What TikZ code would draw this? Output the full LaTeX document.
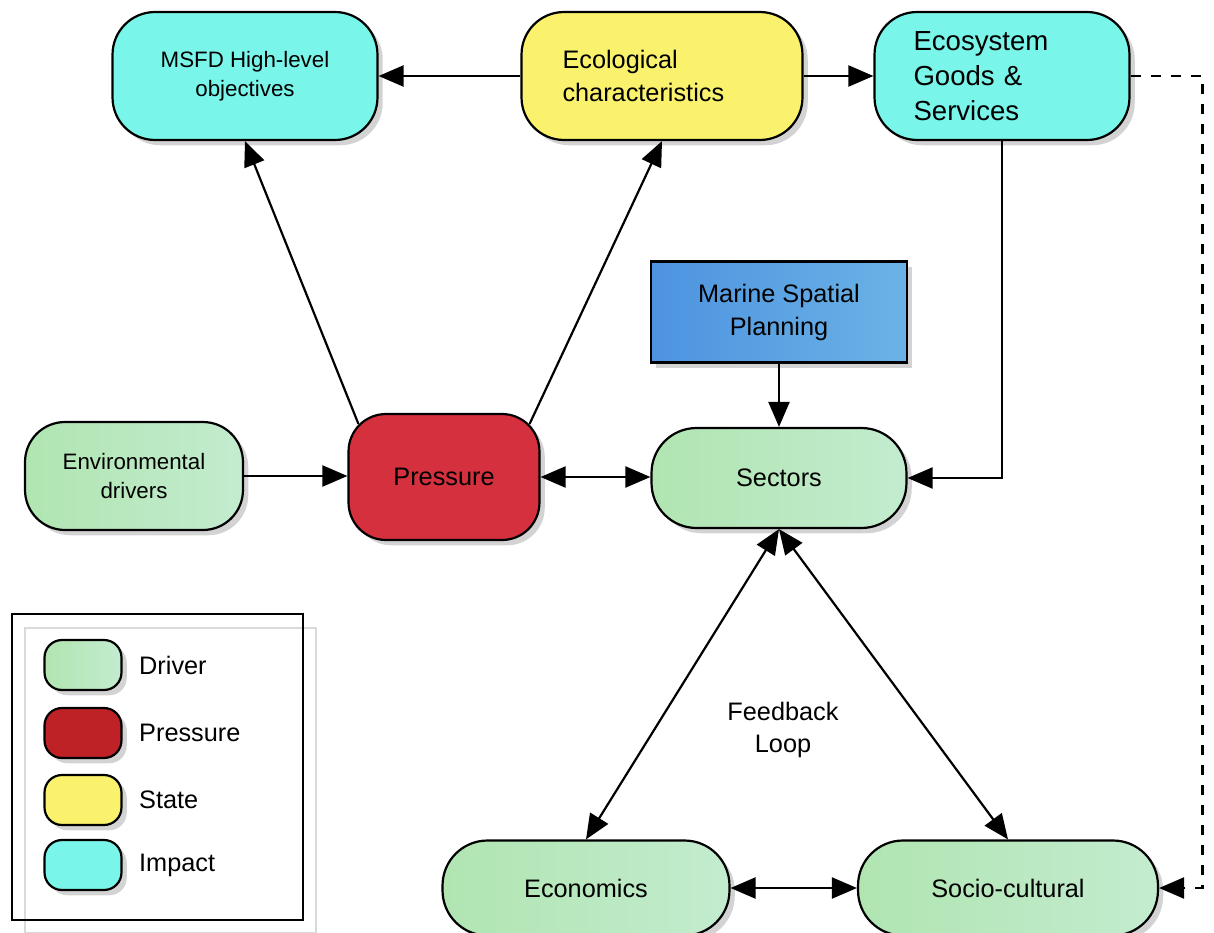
\documentclass[tikz,border=0pt]{standalone}
\usepackage{fontspec}
\setmainfont{Liberation Sans}
\usepackage{tikz}
\usetikzlibrary{arrows.meta, calc, shadows}

\definecolor{drvL}{HTML}{B0E5B1}
\definecolor{drvR}{HTML}{C3ECCF}
\definecolor{presred}{HTML}{D5303D}
\definecolor{legred}{HTML}{BE2227}
\definecolor{stateyel}{HTML}{FAF26C}
\definecolor{impcyan}{HTML}{7AF5EA}
\definecolor{mspL}{HTML}{4D93E0}
\definecolor{mspR}{HTML}{6BB3E6}

\begin{document}
\begin{tikzpicture}[x=0.02cm, y=-0.02cm,
	box/.style={draw, line width=1.25pt, rounded corners=0.85cm, align=center, inner sep=0pt,
		drop shadow={shadow xshift=3pt, shadow yshift=-3pt, opacity=0.35},
		font=\fontsize{14.4}{18.8}\selectfont},
	driver/.style={box, left color=drvL, right color=drvR},
	pressure/.style={box, fill=presred},
	legpres/.style={box, fill=legred},
	state/.style={box, fill=stateyel},
	impact/.style={box, fill=impcyan},
	legkey/.style={minimum width=1.54cm, minimum height=1cm, rounded corners=0.35cm},
	arr/.style={line width=1.25pt, -{Triangle[length=0.5cm, width=0.42cm]}},
	dbl/.style={line width=1.25pt, {Triangle[length=0.5cm, width=0.42cm]}-{Triangle[length=0.5cm, width=0.42cm]}}]
	\useasboundingbox (0,0) rectangle (1214,933);
	
	% top row
	\node[impact, minimum width=5.3cm, minimum height=2.56cm,
	font=\fontsize{12.7}{16.5}\selectfont] (msfd) at (245,76) {MSFD High-level\\objectives};
	\node[state, minimum width=5.62cm, minimum height=2.56cm, text width=3.98cm,
	align=left, inner xsep=0.82cm] (eco) at (662,76) {Ecological\\characteristics};
	\node[impact, minimum width=5.1cm, minimum height=2.56cm, text width=3.54cm,
	align=left, inner xsep=0.78cm, font=\fontsize{15.7}{20}\selectfont] (ess) at (1002,76) {Ecosystem\\Goods \&\\Services};
	
	% middle row
	\node[box, sharp corners, left color=mspL, right color=mspR,
	minimum width=5.12cm, minimum height=2.02cm] (msp) at (779,312) {Marine Spatial\\Planning};
	\node[driver, minimum width=4.36cm, minimum height=2.16cm, rounded corners=0.8cm,
	font=\fontsize{12.7}{17}\selectfont] (env) at (134,476) {Environmental\\drivers};
	\node[pressure, minimum width=3.82cm, minimum height=2.52cm, rounded corners=0.75cm] (pres) at (444,477) {Pressure};
	\node[driver, minimum width=5.1cm, minimum height=2cm, rounded corners=0.9cm] (sect) at (779,478) {Sectors};
	
	% bottom row
	\node[driver, minimum width=5.74cm, minimum height=1.9cm, rounded corners=0.9cm] (econ) at (586,888) {Economics};
	\node[driver, minimum width=6cm, minimum height=1.9cm, rounded corners=0.9cm] (socio) at (1008,888) {Socio-cultural};
	\node[align=center, font=\fontsize{14.4}{18.2}\selectfont] (loop) at (783,730) {Feedback\\Loop};
	
	% connectors
	\draw[arr] (eco) -- (msfd);
	\draw[arr] (eco) -- (ess);
	\draw[arr] ($(pres.north west)+(11,11)$) -- (msfd.south);
	\draw[arr] ($(pres.north east)+(-11,11)$) -- (eco.south);
	\draw[arr] (env.east) -- (pres.west |- env.east);
	\draw[dbl] (pres.east) -- (sect.west |- pres.east);
	\draw[arr] (msp) -- (sect);
	\draw[arr] (ess.south) |- (sect.east);
	\draw[arr, dash pattern=on 5.7pt off 5.7pt] (ess.east) -- ++(72,0) |- (socio.east);
	\draw[dbl] (econ.north) -- (sect.south);
	\draw[dbl] (socio.north) -- (sect.south);
	\draw[dbl] (econ) -- (socio);
	
	% legend
	\draw[line width=0.8pt, black!15] (25,628) rectangle (316,933);
	\draw[line width=1.25pt] (12,614) rectangle (303,920);
	\foreach \sty/\lab/\yy in {driver/Driver/665, legpres/Pressure/733, state/State/800, impact/Impact/865} {
		\node[\sty, legkey] (key\lab) at (83,\yy) {};
		\node[anchor=west, font=\fontsize{14.4}{18}\selectfont] (lbl\lab) at (133,\yy) {\lab};
	}
	
\end{tikzpicture}
\end{document}
